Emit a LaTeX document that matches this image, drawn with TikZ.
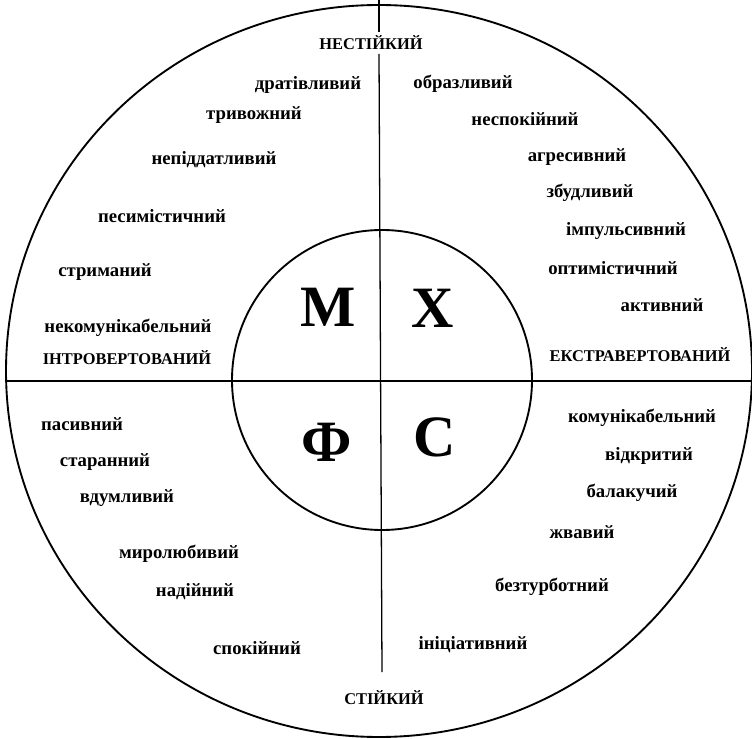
\documentclass[tikz,border=0pt]{standalone}
\usepackage{fontspec}
\setmainfont{Liberation Serif}
\usetikzlibrary{positioning}

\begin{document}
\begin{tikzpicture}[
    x=0.03cm, y=-0.03cm,
    word/.style={font=\bfseries\fontsize{16}{18}\selectfont, inner sep=1pt},
    pole/.style={font=\bfseries\fontsize{14}{16}\selectfont, inner sep=3pt},
    letter/.style={font=\bfseries\fontsize{50}{56}\selectfont, inner sep=0pt},
    ring/.style={line width=1.6pt},
    axis/.style={line width=1.1pt}
]
\useasboundingbox (0,0) rectangle (752,739);

% ============ CIRCLES ============
\draw[ring] (379,371) ellipse [x radius=373, y radius=366];
\draw[ring] (382,380) circle [radius=150];

% ============ POLES ============
\node[pole] (nest)  at (371,43)  {НЕСТІЙКИЙ};
\node[pole] (stiy)  at (384,698) {СТІЙКИЙ};
\node[pole] (intro) at (127,358) {ІНТРОВЕРТОВАНИЙ};
\node[pole] (extra) at (640,355) {ЕКСТРАВЕРТОВАНИЙ};

% Axes
\coordinate (vt) at (379,0);
\coordinate (vb) at (382,672);
\coordinate (hw) at (6,381);
\coordinate (he) at (752,381);
\draw[axis] (vt) -- (vt |- nest.north);
\draw[axis] (vt |- nest.south) -- (vb);
\draw[axis] (hw) -- (he);

% ============ TEMPERAMENTS ============
\node[letter] (mel) at (328,307) {М};
\node[letter] (cho) at (433,308) {Х};
\node[letter] (phl) at (327,442) {Ф};
\node[letter] (san) at (435,437) {С};

% ============ MELANCHOLIC (TOP LEFT) ============
\node[word] (m1) at (308,85)  {дратівливий};
\node[word] (m2) at (254,115) {тривожний};
\node[word] (m3) at (214,160) {непіддатливий};
\node[word] (m4) at (162,216) {песимістичний};
\node[word] (m5) at (105,272) {стриманий};
\node[word] (m6) at (128,328) {некомунікабельний};

% ============ CHOLERIC (TOP RIGHT) ============
\node[word] (c1) at (463,84)  {образливий};
\node[word] (c2) at (525,119) {неспокійний};
\node[word] (c3) at (577,157) {агресивний};
\node[word] (c4) at (590,193) {збудливий};
\node[word] (c5) at (626,231) {імпульсивний};
\node[word] (c6) at (613,268) {оптимістичний};
\node[word] (c7) at (662,305) {активний};

% ============ PHLEGMATIC (BOTTOM LEFT) ============
\node[word] (f1) at (82,424)  {пасивний};
\node[word] (f2) at (105,462) {старанний};
\node[word] (f3) at (127,498) {вдумливий};
\node[word] (f4) at (179,554) {миролюбивий};
\node[word] (f5) at (195,592) {надійний};
\node[word] (f6) at (257,648) {спокійний};

% ============ SANGUINE (BOTTOM RIGHT) ============
\node[word] (s1) at (642,418) {комунікабельний};
\node[word] (s2) at (649,456) {відкритий};
\node[word] (s3) at (632,493) {балакучий};
\node[word] (s4) at (582,532) {жвавий};
\node[word] (s5) at (552,587) {безтурботний};
\node[word] (s6) at (473,645) {ініціативний};

\end{tikzpicture}
\end{document}
